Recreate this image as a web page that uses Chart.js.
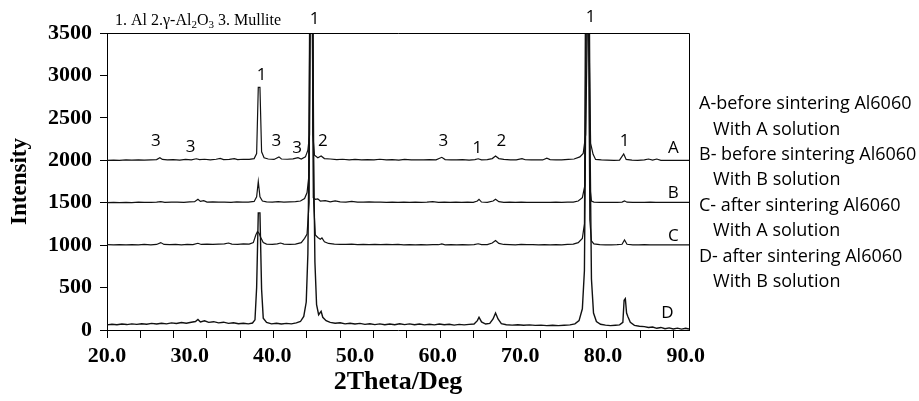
<!DOCTYPE html>
<html>
<head>
<meta charset="utf-8">
<script src="https://cdn.jsdelivr.net/npm/chart.js@4/dist/chart.umd.min.js"></script>
<style>
    body { margin: 0; background: #fff; }
    canvas { display: block; }
</style>
</head>
<body>
<canvas id="xrd" width="919" height="401"></canvas>
<script>
// 2theta / intensity pairs
const seriesA = [
    [20, 1998], [20.8, 2003], [21.5, 1999], [22.3, 2004], [23, 2001], [23.8, 2006], [24.5, 2002], [25.3, 2005],
    [26, 2008], [26.4, 2030], [26.7, 2010], [27.3, 2004], [28, 2008], [28.8, 2003], [29.5, 2010], [30.2, 2006],
    [30.8, 2018], [31.2, 2008], [31.8, 2012], [32.5, 2005], [33.2, 2012], [33.7, 2022], [34.1, 2008], [34.8, 2010],
    [35.4, 2020], [35.8, 2008], [36.5, 2012], [37.2, 2010], [37.8, 2020], [38.1, 2080], [38.3, 2860], [38.5, 2860],
    [38.7, 2100], [39, 2030], [39.5, 2015], [40.2, 2010], [40.8, 2040], [41.1, 2015], [41.8, 2012], [42.5, 2016],
    [43.1, 2030], [43.5, 2015], [44, 2040], [44.3, 2120], [44.5, 2300], [44.6, 4500], [44.8, 4500], [44.9, 2300],
    [45.1, 2060], [45.5, 2030], [45.9, 2050], [46.3, 2020], [47, 2015], [47.8, 2008], [48.5, 2012], [49.3, 2006],
    [50, 2010], [50.8, 2005], [51.5, 2008], [52.3, 2004], [53, 2012], [53.8, 2005], [54.5, 2007], [55.3, 2003],
    [56, 2010], [56.8, 2004], [57.5, 2006], [58.3, 2004], [59, 2008], [59.8, 2006], [60.5, 2035], [60.9, 2008],
    [61.6, 2006], [62.3, 2004], [63, 2007], [63.8, 2003], [64.5, 2008], [64.9, 2018], [65.3, 2005], [66, 2008],
    [66.6, 2020], [67, 2050], [67.4, 2020], [68, 2010], [68.8, 2006], [69.5, 2004], [70.2, 2020], [70.6, 2006],
    [71.3, 2004], [72, 2006], [72.7, 2004], [73.2, 2025], [73.6, 2008], [74.3, 2006], [75, 2006], [75.8, 2010],
    [76.5, 2015], [77.2, 2040], [77.6, 2080], [77.9, 2300], [78.1, 3500], [78.3, 3500], [78.5, 2200], [78.8, 2070],
    [79.1, 2010], [79.8, 2004], [80.5, 2002], [81.3, 2000], [82, 2002], [82.5, 2075], [82.8, 2010], [83.5, 2002],
    [84.2, 2000], [85, 2004], [85.5, 2015], [86, 2002], [86.5, 2015], [87, 2000], [88, 2000], [89, 2000], [90.4, 2000],
];
const seriesB = [
    [20, 1500], [20.8, 1503], [21.5, 1500], [22.3, 1505], [23, 1502], [23.8, 1506], [24.5, 1503], [25.3, 1505],
    [26, 1506], [26.5, 1512], [27, 1504], [27.8, 1506], [28.5, 1508], [29.3, 1505], [30, 1510], [30.6, 1512],
    [31, 1540], [31.3, 1515], [31.7, 1525], [32.1, 1508], [32.8, 1510], [33.5, 1506], [34.2, 1508], [35, 1505],
    [35.7, 1510], [36.4, 1506], [37.1, 1508], [37.8, 1515], [38.1, 1570], [38.3, 1750], [38.5, 1570], [38.8, 1520],
    [39.3, 1510], [40, 1508], [40.7, 1512], [41.4, 1508], [42.1, 1510], [42.8, 1512], [43.4, 1520], [43.9, 1550],
    [44.2, 1620], [44.4, 1800], [44.55, 4500], [44.8, 4500], [44.95, 1560], [45.2, 1540], [45.5, 1545], [45.8, 1520],
    [46.4, 1525], [47, 1510], [47.6, 1522], [48.2, 1510], [48.9, 1508], [49.6, 1515], [50.3, 1508], [51, 1506],
    [51.7, 1510], [52.4, 1506], [53.1, 1508], [53.8, 1505], [54.5, 1508], [55.2, 1504], [55.9, 1507], [56.6, 1504],
    [57.3, 1506], [58, 1504], [58.7, 1506], [59.4, 1512], [60.1, 1505], [60.8, 1507], [61.5, 1504], [62.2, 1506],
    [62.9, 1504], [63.6, 1506], [64.3, 1505], [64.8, 1520], [65, 1540], [65.3, 1508], [66, 1505], [66.7, 1520],
    [67, 1540], [67.4, 1512], [68, 1505], [68.7, 1506], [69.4, 1504], [70.1, 1506], [70.8, 1504], [71.5, 1505],
    [72.2, 1503], [72.9, 1505], [73.6, 1504], [74.3, 1506], [75, 1504], [75.7, 1506], [76.4, 1508], [77, 1520],
    [77.5, 1560], [77.8, 1700], [78, 4500], [78.25, 4500], [78.4, 1700], [78.6, 1520], [78.9, 1508], [79.6, 1505],
    [80.3, 1504], [81, 1503], [81.7, 1505], [82.3, 1508], [82.6, 1522], [82.9, 1506], [83.6, 1503], [84.3, 1505],
    [85, 1503], [85.7, 1506], [86.4, 1503], [87.1, 1504], [88, 1503], [89, 1503], [90.4, 1503],
];
const seriesC = [
    [20, 1005], [20.8, 1003], [21.5, 1006], [22.3, 1002], [23, 1007], [23.8, 1004], [24.5, 1008], [25.3, 1004],
    [26, 1008], [26.5, 1030], [26.9, 1008], [27.6, 1005], [28.3, 1008], [29, 1004], [29.7, 1009], [30.4, 1006],
    [31, 1022], [31.4, 1008], [32.1, 1012], [32.8, 1010], [33.5, 1012], [34.2, 1014], [34.7, 1025], [35.1, 1012],
    [35.8, 1010], [36.5, 1015], [37.2, 1012], [37.7, 1030], [38, 1120], [38.2, 1160], [38.4, 1140], [38.6, 1090],
    [38.9, 1030], [39.3, 1012], [40, 1010], [40.6, 1015], [41, 1025], [41.4, 1012], [42.1, 1010], [42.8, 1012],
    [43.5, 1030], [43.9, 1080], [44.2, 1130], [44.45, 1500], [44.6, 4500], [44.85, 4500], [45, 1500], [45.2, 1120],
    [45.5, 1090], [45.8, 1070], [46, 1085], [46.3, 1040], [46.8, 1020], [47.5, 1012], [48.2, 1010], [48.9, 1008],
    [49.6, 1011], [50.3, 1007], [51, 1010], [51.7, 1006], [52.4, 1009], [53.1, 1006], [53.8, 1008], [54.5, 1005],
    [55.2, 1008], [55.9, 1004], [56.6, 1007], [57.3, 1004], [58, 1007], [58.7, 1004], [59.4, 1006], [60.1, 1005],
    [60.5, 1014], [60.9, 1004], [61.6, 1007], [62.3, 1004], [63, 1006], [63.7, 1004], [64.4, 1006], [64.9, 1016],
    [65.3, 1006], [66, 1006], [66.6, 1025], [67, 1055], [67.4, 1020], [68, 1008], [68.7, 1006], [69.4, 1004],
    [70.1, 1008], [70.8, 1005], [71.5, 1006], [72.2, 1004], [72.9, 1006], [73.6, 1004], [74.3, 1006], [75, 1004],
    [75.7, 1008], [76.4, 1012], [77, 1030], [77.5, 1080], [77.75, 1250], [77.9, 4500], [78.2, 4500], [78.4, 1300],
    [78.6, 1050], [78.9, 1015], [79.6, 1006], [80.3, 1004], [81, 1003], [81.7, 1005], [82.3, 1010], [82.6, 1060],
    [82.9, 1010], [83.6, 1004], [84.3, 1003], [85, 1005], [85.7, 1002], [86.4, 1004], [87.1, 1002], [88, 1003],
    [89, 1002], [90.4, 1002],
];
const seriesD = [
    [20, 60], [20.6, 68], [21.2, 62], [21.8, 70], [22.4, 64], [23, 72], [23.6, 66], [24.2, 74], [24.8, 68],
    [25.4, 78], [26, 70], [26.6, 80], [27.2, 72], [27.8, 84], [28.4, 76], [29, 88], [29.6, 80], [30.2, 92],
    [30.7, 100], [31, 125], [31.3, 95], [31.8, 108], [32.3, 90], [32.9, 98], [33.5, 84], [34.1, 92], [34.7, 78],
    [35.3, 86], [35.9, 74], [36.5, 80], [37.1, 72], [37.6, 82], [37.9, 120], [38.1, 500], [38.3, 1380],
    [38.5, 1380], [38.7, 480], [38.9, 140], [39.3, 90], [39.9, 72], [40.5, 80], [41.1, 70], [41.7, 78],
    [42.3, 72], [42.9, 84], [43.4, 100], [43.8, 160], [44.1, 330], [44.3, 900], [44.45, 2200], [44.6, 4500],
    [44.85, 4500], [45, 2000], [45.15, 800], [45.35, 300], [45.6, 180], [45.9, 220], [46.1, 150], [46.5, 110],
    [47, 90], [47.6, 80], [48.2, 86], [48.8, 72], [49.4, 80], [50, 70], [50.6, 78], [51.2, 66], [51.8, 74],
    [52.4, 64], [53, 72], [53.6, 62], [54.2, 70], [54.8, 62], [55.4, 74], [56, 64], [56.6, 72], [57.2, 62],
    [57.8, 70], [58.4, 60], [59, 68], [59.6, 60], [60.2, 70], [60.8, 62], [61.4, 68], [62, 58], [62.6, 66],
    [63.2, 60], [63.8, 66], [64.4, 70], [64.8, 110], [65, 150], [65.3, 95], [65.8, 70], [66.3, 78], [66.7, 130],
    [67, 200], [67.3, 130], [67.7, 75], [68.3, 62], [69, 58], [69.7, 62], [70.4, 56], [71.1, 60], [71.8, 54],
    [72.5, 58], [73.2, 52], [73.9, 56], [74.6, 52], [75.3, 56], [76, 60], [76.6, 72], [77.1, 110], [77.5, 250],
    [77.75, 700], [77.9, 2500], [78, 4500], [78.3, 4500], [78.45, 2000], [78.6, 600], [78.85, 200], [79.2, 100],
    [79.7, 68], [80.3, 58], [80.9, 52], [81.5, 56], [82, 60], [82.4, 90], [82.55, 350], [82.7, 370], [82.85, 200],
    [83, 160], [83.3, 90], [83.8, 55], [84.4, 45], [85, 40], [85.5, 30], [86, 35], [86.5, 20], [87, 30],
    [87.5, 15], [88, 25], [88.5, 12], [89, 22], [89.5, 10], [90, 20], [90.4, 12],
];

const xTickLabels = [20, 30, 40, 50, 60, 70, 80, 90];
const xTickMarks = [20, 24.03, 28.06, 32.09, 36.12, 40.15, 44.18, 48.21, 52.24, 56.27, 60.3, 64.33,
    68.36, 72.39, 76.42, 80.45, 84.48, 88.51];
const yTickStep = 500;

// phase markers above the peaks and the curve letters at the right end
const peakLabels = [
    { x: 38.7, y: 3000, text: '1' },
    { x: 45.1, y: 3660, text: '1' },
    { x: 78.5, y: 3690, text: '1' },
    { x: 25.9, y: 2230, text: '3' },
    { x: 30.1, y: 2150, text: '3' },
    { x: 40.5, y: 2230, text: '3' },
    { x: 43.0, y: 2140, text: '3' },
    { x: 46.1, y: 2230, text: '2' },
    { x: 60.7, y: 2220, text: '3' },
    { x: 64.8, y: 2140, text: '1' },
    { x: 67.7, y: 2220, text: '2' },
    { x: 82.6, y: 2220, text: '1' },
    { x: 88.5, y: 2140, text: 'A' },
    { x: 88.5, y: 1610, text: 'B' },
    { x: 88.5, y: 1110, text: 'C' },
    { x: 87.8, y: 200, text: 'D' },
];
const legendLines = [
    'A-before sintering Al6060',
    '   With A solution',
    'B- before sintering Al6060',
    '   With B solution',
    'C- after sintering Al6060',
    '   With A solution',
    'D- after sintering Al6060',
    '   With B solution',
];

const SERIF = "'Liberation Serif', 'Times New Roman', serif";
const SANS = "'Open Sans', 'Noto Sans', sans-serif";

const toPoints = (pairs) => pairs.map(([x, y]) => ({ x, y }));
const sameValue = (list, v) => list.some((t) => Math.abs(t - v) < 1e-6);

const annotationPlugin = {
    id: 'annotations',
    afterDraw(chart) {
        const { ctx, chartArea: area, scales: { x, y } } = chart;
        ctx.save();

        ctx.strokeStyle = '#000';
        ctx.lineWidth = 1;
        ctx.beginPath();
        ctx.moveTo(area.left, area.top + 0.5);
        ctx.lineTo(area.right + 0.5, area.top + 0.5);
        ctx.lineTo(area.right + 0.5, area.bottom);
        ctx.stroke();

        ctx.fillStyle = '#000';
        ctx.font = `17px ${SANS}`;
        ctx.textAlign = 'center';
        ctx.textBaseline = 'middle';
        peakLabels.forEach((l) => {
            ctx.fillText(l.text, x.getPixelForValue(l.x), y.getPixelForValue(l.y));
        });

        ctx.font = `18px ${SANS}`;
        ctx.textAlign = 'left';
        legendLines.forEach((line, i) => {
            ctx.fillText(line, area.right + 10, 104 + i * 25.4);
        });

        // "1. Al 2.γ-Al2O3 3. Mullite" with subscripts
        const parts = [['1. Al 2.γ-Al', false], ['2', true], ['O', false], ['3', true], [' 3. Mullite', false]];
        let tx = area.left + 8;
        const base = area.top - 8;
        ctx.textBaseline = 'alphabetic';
        parts.forEach(([text, sub]) => {
            ctx.font = sub ? `11px ${SERIF}` : `16px ${SERIF}`;
            ctx.fillText(text, tx, sub ? base + 3 : base);
            tx += ctx.measureText(text).width;
        });

        ctx.restore();
    },
};

const lineStyle = (pairs, width) => ({
    data: toPoints(pairs),
    borderColor: '#111',
    borderWidth: width,
    pointRadius: 0,
    tension: 0,
    fill: false,
});

new Chart(document.getElementById('xrd'), {
    type: 'line',
    data: {
        datasets: [
            lineStyle(seriesA, 1.2),
            lineStyle(seriesB, 1.2),
            lineStyle(seriesC, 1.2),
            lineStyle(seriesD, 1.4),
        ],
    },
    options: {
        responsive: false,
        animation: false,
        devicePixelRatio: 1,
        layout: { padding: { left: 0, top: 33, right: 230, bottom: 0 } },
        plugins: { legend: { display: false }, tooltip: { enabled: false } },
        scales: {
            x: {
                type: 'linear',
                min: 20,
                max: 90.4,
                afterBuildTicks(scale) {
                    const values = [...new Set([...xTickMarks, ...xTickLabels])].sort((a, b) => a - b);
                    scale.ticks = values.map((value) => ({ value }));
                },
                afterFit(scale) { scale.height = 71; },
                ticks: {
                    autoSkip: false,
                    maxRotation: 0,
                    padding: 5,
                    color: '#000',
                    font: { family: SERIF, size: 22, weight: 'bold' },
                    callback: (v) => (sameValue(xTickLabels, v) ? v.toFixed(1) : ''),
                },
                grid: {
                    drawOnChartArea: false,
                    tickLength: 8,
                    tickColor: (ctx) => (ctx.tick && sameValue(xTickMarks, ctx.tick.value) ? '#000' : 'rgba(0,0,0,0)'),
                },
                border: { color: '#000', width: 1 },
                title: {
                    display: true,
                    text: '2Theta/Deg',
                    color: '#000',
                    padding: { top: 0, bottom: 3 },
                    font: { family: SERIF, size: 26, weight: 'bold' },
                },
            },
            y: {
                min: 0,
                max: 3500,
                afterFit(scale) { scale.width = 107; },
                ticks: {
                    stepSize: yTickStep,
                    padding: 8,
                    color: '#000',
                    font: { family: SERIF, size: 22, weight: 'bold' },
                    callback: (v) => String(v),
                },
                grid: { drawOnChartArea: false, tickLength: 7, tickColor: '#000' },
                border: { color: '#000', width: 1 },
                title: {
                    display: true,
                    text: 'Intensity',
                    color: '#000',
                    padding: { top: 6, bottom: 0 },
                    font: { family: SERIF, size: 23, weight: 'bold' },
                },
            },
        },
    },
    plugins: [annotationPlugin],
});
</script>
</body>
</html>
